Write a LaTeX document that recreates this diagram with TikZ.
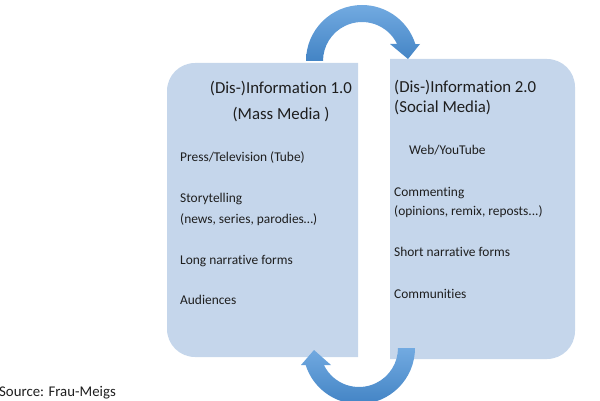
\documentclass[tikz,border=0pt]{standalone}
\usepackage{fontspec}
\setmainfont{Carlito}[Ligatures={NoCommon,NoRare}]
\definecolor{boxblue}{HTML}{C5D6EB}
\definecolor{arrlight}{HTML}{72AAE1}
\definecolor{arrdark}{HTML}{4384C5}
\definecolor{txt}{HTML}{1E1E1E}
\newcommand{\myti}{t\kern0pt i}
\begin{document}
\begin{tikzpicture}[x=1pt,y=1pt,
  title/.style={inner sep=0pt,text=txt,font=\fontsize{16.8}{20}\selectfont},
  body/.style={inner sep=0pt,text=txt,font=\fontsize{13.4}{16}\selectfont,anchor=base west},
  src/.style={inner sep=0pt,text=txt,font=\fontsize{14.8}{17}\selectfont,anchor=base west},
  panel/.style={fill=boxblue},
  cyc/.style={top color=arrlight,bottom color=arrdark,draw=none}]
\useasboundingbox (0,0) rectangle (600,400);
% panels
\fill[panel] (358,337) -- (195,337) arc[start angle=90,end angle=180,radius=28]
  -- (167,71) arc[start angle=180,end angle=270,radius=28] -- (358,43) -- cycle;
\fill[panel] (390,341) -- (547,341) arc[start angle=90,end angle=0,radius=28]
  -- (575,69) arc[start angle=0,end angle=-90,radius=28] -- (390,41) -- cycle;
% top circular arrow
\shade[cyc] (306,339) arc[start angle=180,end angle=17.67,radius=56]
  -- (420,356) -- (408,341) -- (390,356)
  -- (397.1,356) arc[start angle=25.84,end angle=180,radius=39] -- cycle;
% bottom circular arrow
\shade[cyc] (415,52) arc[start angle=0,end angle=-162.33,radius=56]
  -- (301,35) -- (314,50) -- (331,35)
  -- (323.9,35) arc[start angle=-154.16,end angle=0,radius=39] -- cycle;
% left panel text
\node[title,anchor=base] (la) at (281,307) {(Dis-)Informa\myti on 1.0};
\node[title,anchor=base] (lb) at (281,281) {(Mass Media )};
\node[body] (l1) at (180,238.5) {Press/Television (Tube)};
\node[body] (l2) at (180,197.5) {Storytelling};
\node[body] (l3) at (180,177) {(news, series, parodies…)};
\node[body] (l4) at (180,136) {Long narra\myti ve forms};
\node[body] (l5) at (180,95.5) {Audiences};
% right panel text
\node[title,anchor=base west] (ra) at (394,308) {(Dis-)Informa\myti on 2.0};
\node[title,anchor=base west] (rb) at (394,288) {(Social Media)};
\node[body] (r1) at (409,246) {Web/YouTube};
\node[body] (r2) at (394,204) {Commen\myti ng};
\node[body] (r3) at (394,184.5) {(opinions, remix, reposts...)};
\node[body] (r4) at (394,143.5) {Short narra\myti ve forms};
\node[body] (r5) at (394,102) {Communi\myti es};
% source
\node[src] (srcnode) at (-1,3.6) {Source: Frau-Meigs};
\end{tikzpicture}
\end{document}
